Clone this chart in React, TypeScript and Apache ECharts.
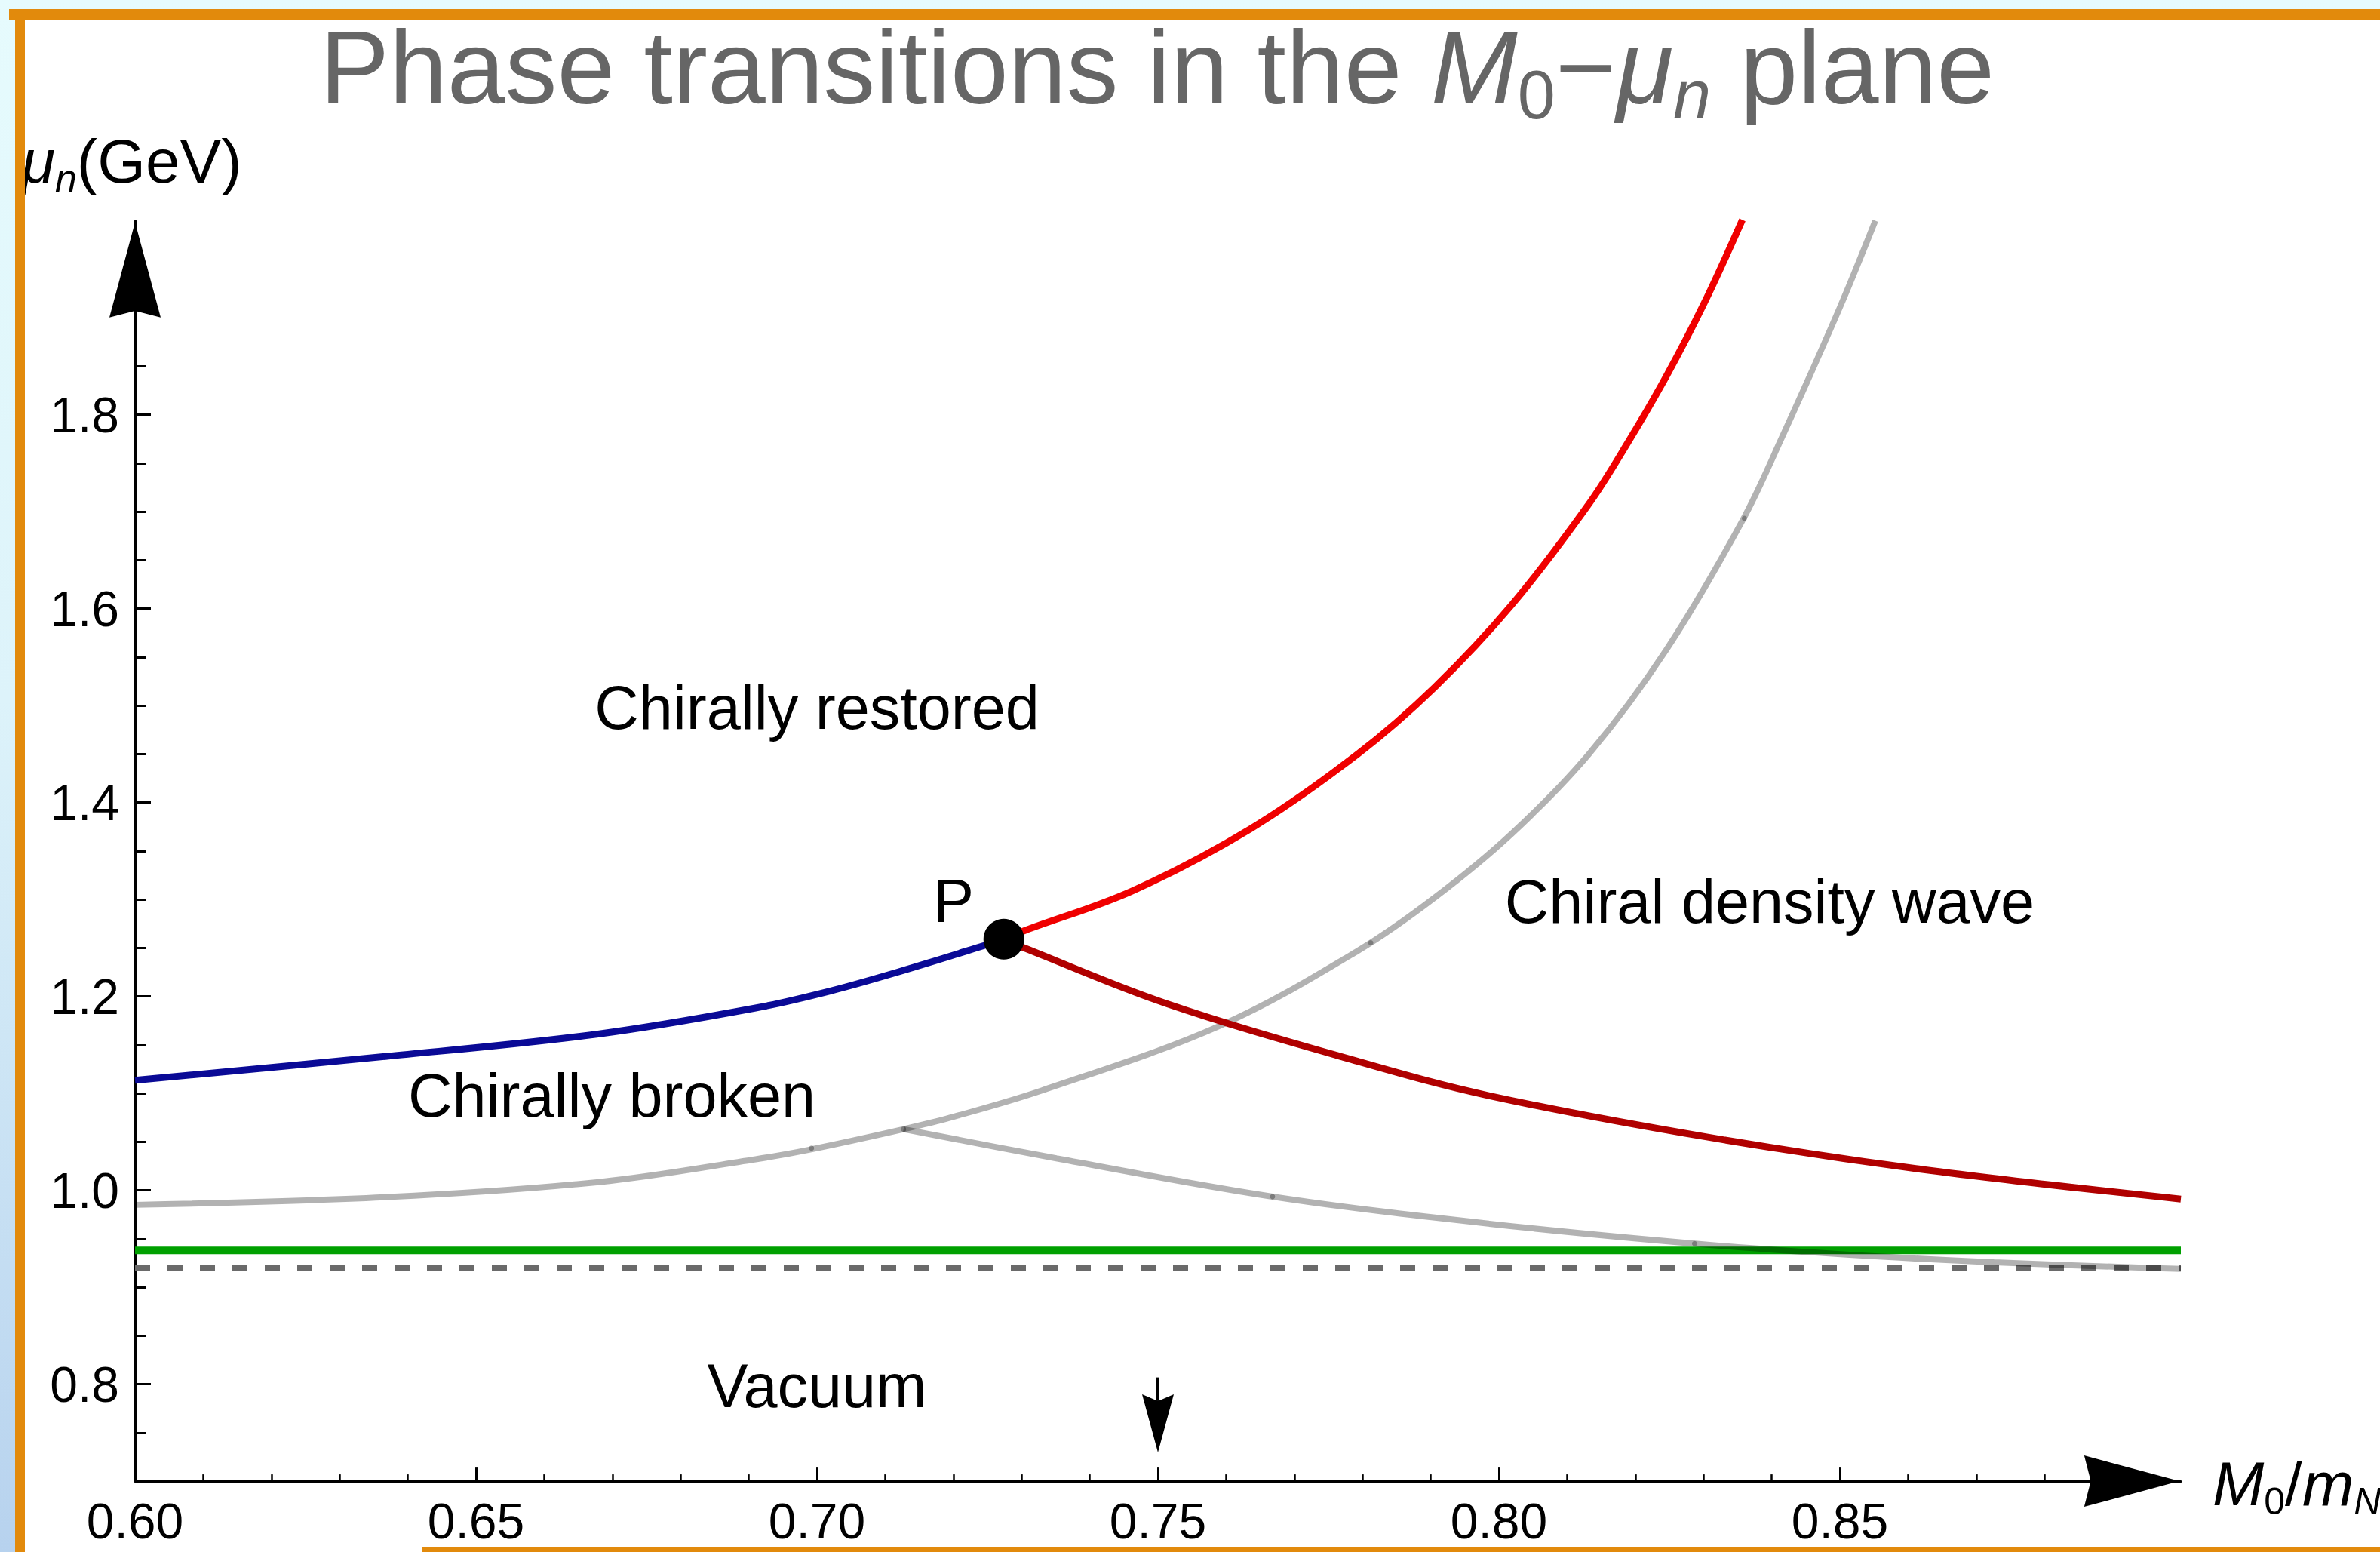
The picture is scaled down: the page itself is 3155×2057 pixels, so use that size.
import React, { useEffect, useRef } from 'react';
import * as echarts from 'echarts';

const W = 3155;
const H = 2057;
const FONT = '"Liberation Sans", Arial, Helvetica, sans-serif';

// ---------- data ----------
const blueBranch = [
  [0.6, 1.1135], [0.6367, 1.138], [0.6677, 1.161], [0.691, 1.188], [0.7019, 1.2055],
  [0.7118, 1.225], [0.7246, 1.2526], [0.7274, 1.259],
];
const redUpper = [
  [0.7274, 1.259], [0.7305, 1.268], [0.7463, 1.309], [0.7636, 1.373], [0.7793, 1.45],
  [0.7906, 1.519], [0.8019, 1.604], [0.8132, 1.708], [0.8188, 1.77], [0.8245, 1.839],
  [0.8301, 1.915], [0.8357, 2.001],
];
const redLower = [
  [0.7274, 1.259], [0.7305, 1.2497], [0.7512, 1.1927], [0.7793, 1.133], [0.7986, 1.0975],
  [0.8303, 1.0552], [0.8621, 1.0215], [0.9, 0.991],
];
const grayUpper = [
  [0.6, 0.985], [0.637, 0.993], [0.668, 1.0085], [0.691, 1.032], [0.699, 1.042],
  [0.7127, 1.063], [0.7196, 1.075], [0.733, 1.103], [0.7592, 1.17], [0.7793, 1.247],
  [0.7906, 1.302], [0.8019, 1.368], [0.8132, 1.45], [0.8245, 1.557], [0.8357, 1.6907],
  [0.8414, 1.775], [0.8499, 1.909], [0.8552, 2.0],
];
const grayLower = [
  [0.7127, 1.063], [0.7351, 1.033], [0.7668, 0.9935], [0.7986, 0.9655], [0.8287, 0.945],
  [0.8514, 0.9335], [0.8726, 0.9258], [0.8938, 0.9203], [0.9, 0.919],
];
const meshPoints = [
  [0.6992, 1.0434], [0.7127, 1.063], [0.7668, 0.9935], [0.8287, 0.945], [0.7812, 1.2553], [0.836, 1.693],
];
const nucleonLine = [[0.6, 0.938], [0.9, 0.938]];
const dashedLine = [[0.6, 0.92], [0.9, 0.92]];
const pointP = [[0.7274, 1.259]];
const markerArrow = [[0.75, 0.807, 0.7297]]; // x, top, tip

const xMajorLabels = { min: 0.6, max: 0.85, step: 0.05 };
const xMinorTicks = { min: 0.6, max: 0.88, step: 0.01 };
const yMajorLabels = { min: 0.8, max: 1.8, step: 0.2 };
const yMinorTicks = { min: 0.7, max: 1.85, step: 0.05 };
const xRange = [0.6, 0.9];
const yRange = [0.7, 2.0];

// ---------- layout helpers ----------
const X_AT_MIN = 179; // pixel of x = 0.6
const PX_PER_X = 9040;
const Y_AT_08 = 1834.6; // pixel of y = 0.8
const PX_PER_Y = 1285;

function gridFor(xmin: number, xmax: number, ymin: number, ymax: number) {
  return {
    left: X_AT_MIN + (xmin - 0.6) * PX_PER_X,
    width: (xmax - xmin) * PX_PER_X,
    top: Y_AT_08 - (ymax - 0.8) * PX_PER_Y,
    height: (ymax - ymin) * PX_PER_Y,
    containLabel: false,
    show: false,
  };
}

let measureCtx: any = null;
function measure(text: string, size: number, italic?: boolean) {
  if (!measureCtx) measureCtx = document.createElement('canvas').getContext('2d');
  measureCtx.font = `${italic ? 'italic ' : ''}${size}px "Liberation Sans"`;
  return measureCtx.measureText(text).width;
}

type Run = { text: string; size: number; italic?: boolean; dy?: number };
function runs(list: Run[], x: number, baseline: number, align: 'left' | 'center', color: string, z = 100) {
  const widths = list.map((r) => measure(r.text, r.size, r.italic));
  const total = widths.reduce((a, b) => a + b, 0);
  let cx = align === 'center' ? x - total / 2 : x;
  return list.map((r, i) => {
    const el = {
      type: 'text',
      x: cx,
      y: baseline + (r.dy || 0) - 0.3465 * r.size,
      z,
      style: {
        text: r.text,
        fontSize: r.size,
        fontFamily: FONT,
        fontStyle: r.italic ? 'italic' : 'normal',
        fill: color,
        textAlign: 'left',
        textVerticalAlign: 'middle',
      },
    };
    cx += widths[i];
    return el;
  });
}

function label(text: string, cx: number, cy: number, size = 81) {
  return {
    type: 'text',
    x: cx,
    y: cy,
    z: 100,
    style: {
      text,
      fontSize: size,
      fontFamily: FONT,
      fill: '#000',
      textAlign: 'center',
      textVerticalAlign: 'middle',
    },
  };
}

const ORANGE = '#E28A0C';

function buildOption() {
  const hiddenX = (gi: number) => ({ type: 'value', gridIndex: gi, show: false, min: 0, max: 1 });
  const hiddenY = (gi: number) => ({ type: 'value', gridIndex: gi, show: false, min: 0, max: 1 });
  const arrowPath = 'path://M35,0 L70,130 L35,121 L0,130 Z';

  const graphic: any[] = [
    { type: 'rect', z: -10, shape: { x: 33, y: 26, width: W - 33, height: H - 26 }, style: { fill: '#fff' } },
    { type: 'rect', z: 200, shape: { x: 12, y: 12, width: W - 12, height: 15 }, style: { fill: ORANGE } },
    { type: 'rect', z: 200, shape: { x: 20, y: 12, width: 13, height: H - 12 }, style: { fill: ORANGE } },
    { type: 'rect', z: 200, shape: { x: 560, y: 2050, width: W - 560, height: 7 }, style: { fill: ORANGE } },
    ...runs(
      [
        { text: 'Phase transitions in the ', size: 138 },
        { text: 'M', size: 138, italic: true },
        { text: '0', size: 90, dy: 20 },
        { text: '\u2212', size: 138 },
        { text: '\u03bc', size: 138, italic: true },
        { text: 'n', size: 90, italic: true, dy: 20 },
        { text: ' plane', size: 138 },
      ],
      1534, 137, 'center', '#666666'
    ),
    ...runs(
      [
        { text: '\u03bc', size: 82, italic: true },
        { text: 'n', size: 52, italic: true, dy: 12 },
        { text: '(GeV)', size: 82 },
      ],
      28, 242, 'left', '#000'
    ),
    ...runs(
      [
        { text: 'M', size: 82, italic: true },
        { text: '0', size: 50, dy: 12 },
        { text: '/', size: 82 },
        { text: 'm', size: 82, italic: true },
        { text: 'N', size: 50, italic: true, dy: 12 },
      ],
      2933, 1995, 'left', '#000'
    ),
    label('Chirally restored', 1083, 938),
    label('Chiral density wave', 2346, 1195),
    label('Chirally broken', 811, 1452),
    label('Vacuum', 1083, 1837),
    label('P', 1264, 1194),
  ];

  const tickLabel = { fontSize: 66, fontFamily: FONT, color: '#000' };
  const curve = { type: 'line', showSymbol: false, silent: true, smooth: 0.35 };

  return {
    animation: false,
    backgroundColor: new echarts.graphic.LinearGradient(0, 0, 0, 1, [
      { offset: 0, color: '#E6FBFD' },
      { offset: 0.45, color: '#DDF3FA' },
      { offset: 1, color: '#B7D2EE' },
    ]),
    grid: [
      gridFor(xRange[0], xRange[1], yRange[0], yRange[1]),
      gridFor(xMajorLabels.min, xMajorLabels.max, yRange[0], yRange[1]),
      gridFor(xMinorTicks.min, xMinorTicks.max, yRange[0], yRange[1]),
      gridFor(xRange[0], xRange[1], yMajorLabels.min, yMajorLabels.max),
      gridFor(xRange[0], xRange[1], yMinorTicks.min, yMinorTicks.max),
    ],
    xAxis: [
      {
        type: 'value', gridIndex: 0, min: xRange[0], max: xRange[1],
        axisLine: {
          show: true, onZero: false,
          lineStyle: { color: '#000', width: 3 },
          symbol: ['none', arrowPath], symbolSize: [68, 130], symbolOffset: [0, -65],
        },
        axisTick: { show: false }, axisLabel: { show: false }, splitLine: { show: false },
      },
      {
        type: 'value', gridIndex: 1, min: xMajorLabels.min, max: xMajorLabels.max, interval: xMajorLabels.step,
        axisLine: { show: false, onZero: false },
        axisTick: { show: true, inside: true, length: 18, lineStyle: { color: '#000', width: 3 } },
        axisLabel: { show: true, margin: 20, ...tickLabel, formatter: (v: number) => v.toFixed(2), showMinLabel: true, showMaxLabel: true },
        splitLine: { show: false },
      },
      {
        type: 'value', gridIndex: 2, min: xMinorTicks.min, max: xMinorTicks.max, interval: xMinorTicks.step,
        axisLine: { show: false, onZero: false },
        axisTick: { show: true, inside: true, length: 9, lineStyle: { color: '#000', width: 2.5 } },
        axisLabel: { show: false }, splitLine: { show: false },
      },
      hiddenX(3),
      hiddenX(4),
    ],
    yAxis: [
      {
        type: 'value', gridIndex: 0, min: yRange[0], max: yRange[1],
        axisLine: {
          show: true, onZero: false,
          lineStyle: { color: '#000', width: 3 },
          symbol: ['none', arrowPath], symbolSize: [68, 130], symbolOffset: [0, -65],
        },
        axisTick: { show: false }, axisLabel: { show: false }, splitLine: { show: false },
      },
      hiddenY(1),
      hiddenY(2),
      {
        type: 'value', gridIndex: 3, min: yMajorLabels.min, max: yMajorLabels.max, interval: yMajorLabels.step,
        axisLine: { show: false, onZero: false },
        axisTick: { show: true, inside: true, length: 21, lineStyle: { color: '#000', width: 3 } },
        axisLabel: { show: true, margin: 21, ...tickLabel, formatter: (v: number) => v.toFixed(1), showMinLabel: true, showMaxLabel: true },
        splitLine: { show: false },
      },
      {
        type: 'value', gridIndex: 4, min: yMinorTicks.min, max: yMinorTicks.max, interval: yMinorTicks.step,
        axisLine: { show: false, onZero: false },
        axisTick: { show: true, inside: true, length: 15, lineStyle: { color: '#000', width: 3 } },
        axisLabel: { show: false }, splitLine: { show: false },
      },
    ],
    graphic,
    series: [
      {
        type: 'line', data: nucleonLine, showSymbol: false, silent: true,
        lineStyle: { color: '#00A000', width: 10 },
      },
      {
        type: 'line', data: dashedLine, showSymbol: false, silent: true,
        lineStyle: { color: '#6A6A6A', width: 9, type: [20, 23] },
      },
      { ...curve, data: grayUpper, lineStyle: { color: 'rgba(0,0,0,0.3)', width: 8 } },
      { ...curve, data: grayLower, lineStyle: { color: 'rgba(0,0,0,0.3)', width: 8 } },
      {
        type: 'scatter', data: meshPoints, symbolSize: 7, silent: true,
        itemStyle: { color: 'rgba(0,0,0,0.3)', opacity: 1 },
      },
      { ...curve, data: blueBranch, lineStyle: { color: '#0A0A96', width: 9 } },
      { ...curve, data: redUpper, lineStyle: { color: '#F00000', width: 9 } },
      { ...curve, data: redLower, lineStyle: { color: '#B00000', width: 9 } },
      {
        type: 'scatter', data: pointP, symbolSize: 54, silent: true, z: 5,
        itemStyle: { color: '#000', opacity: 1 },
      },
      {
        type: 'custom', data: markerArrow, silent: true, z: 5,
        renderItem: (params: any, api: any) => {
          const top = api.coord([api.value(0), api.value(1)]);
          const tip = api.coord([api.value(0), api.value(2)]);
          const headLen = 77;
          const half = 21;
          const notch = 9;
          return {
            type: 'group',
            children: [
              {
                type: 'line',
                shape: { x1: top[0], y1: top[1], x2: tip[0], y2: tip[1] - headLen + notch },
                style: { stroke: '#000', lineWidth: 4 },
              },
              {
                type: 'polygon',
                shape: {
                  points: [
                    [tip[0], tip[1]],
                    [tip[0] + half, tip[1] - headLen],
                    [tip[0], tip[1] - headLen + notch],
                    [tip[0] - half, tip[1] - headLen],
                  ],
                },
                style: { fill: '#000' },
              },
            ],
          };
        },
      },
    ],
  };
}

export default function App() {
  const ref = useRef<HTMLDivElement>(null);
  useEffect(() => {
    document.body.style.margin = '0';
    document.body.style.overflow = 'hidden';
    const chart = echarts.init(ref.current!, null, { renderer: 'svg', width: W, height: H });
    chart.setOption(buildOption() as any);
    return () => chart.dispose();
  }, []);
  return <div ref={ref} style={{ position: 'absolute', left: 0, top: 0, width: W, height: H }} />;
}
